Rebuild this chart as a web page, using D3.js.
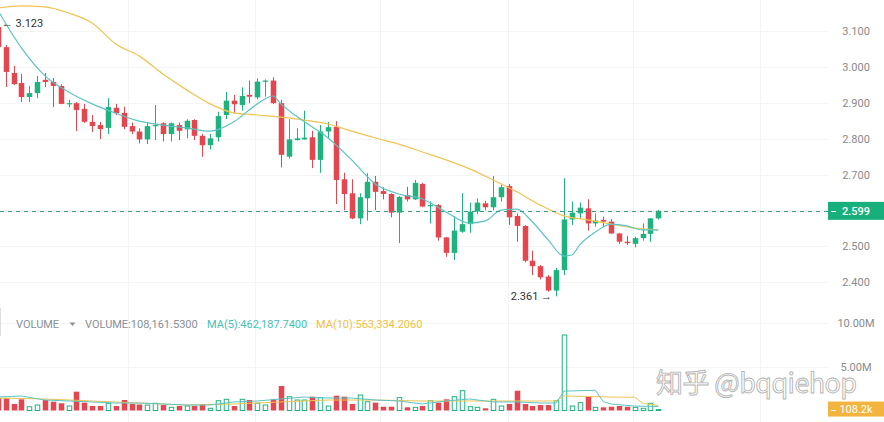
<!DOCTYPE html>
<html><head><meta charset="utf-8">
<script src="https://cdn.jsdelivr.net/npm/d3@7/dist/d3.min.js"></script>
<style>
html,body{margin:0;padding:0;background:#fff;}
svg{display:block;font-family:Roboto,"Noto Sans",sans-serif;}
</style></head>
<body>
<svg id="chart" width="884" height="422"></svg>
<script>
// ---------- DATA ----------
const openP = [3.111,3.055,2.983,2.955,2.916,2.927,2.964,2.958,2.947,2.897,2.899,2.883,2.847,2.838,2.830,
2.886,2.872,2.835,2.820,2.798,2.835,2.843,2.813,2.838,2.826,2.852,2.808,2.782,2.804,2.866,
2.906,2.894,2.922,2.915,2.959,2.962,2.899,2.750,2.796,2.798,2.804,2.741,2.820,2.833,2.687,
2.648,2.578,2.634,2.680,2.654,2.646,2.594,2.643,2.631,2.674,2.613,2.615,2.525,2.482,2.541,
2.562,2.597,2.620,2.609,2.637,2.668,2.585,2.557,2.460,2.445,2.416,2.377,2.434,2.575,2.592,
2.606,2.564,2.574,2.569,2.536,2.513,2.507,2.523,2.535,2.578];
const closeP = [3.055,2.986,2.952,2.916,2.927,2.958,2.958,2.947,2.897,2.899,2.880,2.847,2.835,2.827,2.888,
2.871,2.833,2.820,2.798,2.835,2.838,2.813,2.843,2.822,2.850,2.808,2.782,2.801,2.863,2.906,
2.896,2.919,2.917,2.959,2.962,2.899,2.755,2.798,2.801,2.803,2.741,2.820,2.832,2.685,2.646,
2.578,2.637,2.680,2.652,2.646,2.594,2.638,2.631,2.677,2.611,2.615,2.525,2.482,2.544,2.562,
2.597,2.622,2.609,2.637,2.665,2.581,2.557,2.460,2.445,2.414,2.377,2.434,2.575,2.594,2.608,
2.564,2.572,2.569,2.536,2.513,2.509,2.523,2.535,2.578,2.599];
const highP = [3.123,3.061,3.003,2.980,2.947,2.975,2.983,2.969,2.952,2.908,2.902,2.897,2.866,2.847,2.913,
2.897,2.889,2.845,2.829,2.845,2.894,2.846,2.845,2.845,2.854,2.854,2.813,2.813,2.875,2.930,
2.922,2.943,2.962,2.968,2.965,2.971,2.908,2.854,2.829,2.878,2.822,2.838,2.847,2.849,2.705,
2.687,2.648,2.704,2.696,2.665,2.648,2.640,2.666,2.685,2.677,2.625,2.618,2.526,2.585,2.648,
2.622,2.634,2.627,2.696,2.671,2.674,2.592,2.559,2.488,2.448,2.420,2.440,2.690,2.625,2.622,
2.631,2.592,2.583,2.576,2.537,2.529,2.527,2.564,2.579,2.601];
const lowP = [3.050,2.944,2.950,2.902,2.902,2.913,2.944,2.888,2.896,2.888,2.821,2.844,2.819,2.799,2.813,
2.866,2.826,2.813,2.787,2.785,2.796,2.792,2.792,2.796,2.801,2.796,2.750,2.770,2.792,2.855,
2.871,2.878,2.899,2.910,2.917,2.897,2.720,2.745,2.795,2.797,2.718,2.705,2.801,2.618,2.601,
2.576,2.562,2.572,2.601,2.631,2.581,2.509,2.625,2.629,2.609,2.564,2.516,2.471,2.462,2.538,
2.538,2.590,2.601,2.601,2.625,2.560,2.513,2.456,2.420,2.408,2.374,2.361,2.420,2.560,2.578,
2.544,2.555,2.555,2.535,2.507,2.504,2.497,2.516,2.513,2.575];
// volume in millions
const volume = [1.39,1.39,0.74,1.27,0.43,0.62,1.19,1.00,0.82,0.51,2.14,0.89,0.51,0.51,0.82,
0.51,1.19,0.74,0.68,0.62,0.82,0.62,0.36,0.51,0.51,0.51,0.74,0.25,1.11,1.27,
0.51,1.27,1.19,0.82,0.62,1.27,2.78,1.57,1.19,1.19,1.57,1.46,0.51,1.68,1.57,
0.74,1.76,1.00,0.89,0.43,0.43,1.46,0.36,0.36,0.51,1.11,0.89,1.27,1.57,2.25,
0.43,0.36,0.25,1.27,0.51,0.74,2.25,0.74,0.51,0.62,0.62,1.11,8.58,0.51,0.89,
1.57,0.36,0.36,0.43,0.51,0.43,0.36,0.25,0.82,0.108];

// price moving averages (candle index, value)
const maFastIdx = [0,3,6,9,12,15,18,21,24,27,30,33,35,36,39,42,45,48,51,54,57,60,62,64,66,68,70,72,73,74,76,78,80,82,84];
const maFastVal = [3.158,3.053,2.975,2.930,2.897,2.871,2.849,2.838,2.830,2.821,2.847,2.897,2.919,2.897,2.847,2.802,2.741,2.674,2.646,2.632,2.596,2.565,2.571,2.601,2.604,2.568,2.518,2.473,2.476,2.504,2.540,2.562,2.557,2.546,2.546];
const maSlowIdx = [0,3,6,9,12,15,18,21,24,27,30,33,36,39,42,45,48,51,54,57,60,63,66,69,72,75,78,81,84];
const maSlowVal = [3.164,3.170,3.167,3.150,3.122,3.064,3.030,2.980,2.936,2.897,2.872,2.866,2.860,2.852,2.841,2.821,2.802,2.785,2.763,2.741,2.716,2.685,2.652,2.615,2.585,2.574,2.562,2.551,2.546];

// volume moving averages (millions)
const volMa5Idx = [0,3,6,9,12,15,18,21,24,27,30,33,36,39,42,45,48,51,54,57,60,63,66,69,71,72,76,77,78,81,84];
const volMa5Val = [1.53,1.65,1.19,1.08,0.97,0.85,0.85,0.74,0.62,0.62,0.97,1.08,1.31,1.53,1.42,1.42,1.19,1.08,0.74,1.08,1.31,0.97,0.97,0.85,0.85,2.2,2.3,1.0,0.74,0.5,0.46];
const volMa10Idx = [0,6,12,18,24,30,36,42,48,54,60,66,71,72,78,81,82,84];
const volMa10Val = [1.42,1.31,1.08,0.85,0.62,0.74,0.97,1.19,1.19,1.08,1.08,1.08,1.08,1.65,1.53,1.5,0.85,0.56];

const priceTicks = [2.4,2.5,2.6,2.7,2.8,2.9,3.0,3.1];
const volTicks = [5,10];
const volTickLabels = ["5.00M","10.00M"];
const lastPrice = 2.599;
const lastVolLabel = "108.2k";
const maxLabel = "3.123", minLabel = "2.361";
const legendTexts = ["VOLUME","VOLUME:108,161.5300","MA(5):462,187.7400","MA(10):563,334.2060"];
const watermark = "知乎 @bqqiehop";

// ---------- STYLE ----------
const UP = "#1fb27f", DOWN = "#e4464f";
const TEAL = "#5cc4c4", YEL = "#f0c452";

const svg = d3.select("#chart");
const n = openP.length;
const plotRight = 828;

const x = d3.scaleLinear().domain([0, n-1]).range([-2.16, 658.3]);
const step = x(1)-x(0);
const bw = step*0.7;
const y = d3.scaleLinear().domain([2.4, 3.1]).range([282.3, 31]);
const yv = d3.scaleLinear().domain([0, 10]).range([410.5, 322.5]);

svg.append("defs").append("clipPath").attr("id","clip")
  .append("rect").attr("x",0).attr("y",0).attr("width",plotRight).attr("height",422);

// grid
const grid = svg.append("g");
grid.selectAll("line.h").data(priceTicks).join("line")
  .attr("x1",0).attr("x2",plotRight).attr("y1",d=>Math.round(y(d))+0.5).attr("y2",d=>Math.round(y(d))+0.5)
  .attr("stroke","#f4f4f4");
grid.selectAll("line.hv").data(volTicks).join("line")
  .attr("x1",0).attr("x2",plotRight).attr("y1",d=>Math.round(yv(d))+0.5).attr("y2",d=>Math.round(yv(d))+0.5)
  .attr("stroke","#f4f4f4");
const vGridIdx = [16.5,32.7,48.6,64.9,80.8,96.9];
grid.selectAll("line.v").data(vGridIdx).join("line")
  .attr("x1",d=>Math.round(x(d))+0.5).attr("x2",d=>Math.round(x(d))+0.5)
  .attr("y1",0).attr("y2",422).attr("stroke","#f3f3f3");

const g = svg.append("g").attr("clip-path","url(#clip)");

// candles
const idx = d3.range(n);
const isUp = i => closeP[i] >= openP[i];
g.selectAll("line.wick").data(idx).join("line")
  .attr("x1",i=>Math.round(x(i))+0.5).attr("x2",i=>Math.round(x(i))+0.5)
  .attr("y1",i=>y(highP[i])).attr("y2",i=>y(lowP[i]))
  .attr("stroke",i=>isUp(i)?UP:DOWN).attr("stroke-width",1);
g.selectAll("rect.body").data(idx).join("rect")
  .attr("x",i=>Math.round(x(i))+0.5-bw/2).attr("width",bw)
  .attr("y",i=>y(Math.max(openP[i],closeP[i])))
  .attr("height",i=>Math.max(1.2, Math.abs(y(openP[i])-y(closeP[i]))))
  .attr("fill",i=>isUp(i)?UP:DOWN);

// MAs
const lineP = d3.line().curve(d3.curveMonotoneX).x(d=>x(d[0])).y(d=>y(d[1]));
g.append("path").datum(maSlowIdx.map((d,i)=>[d,maSlowVal[i]])).attr("d",lineP)
  .attr("fill","none").attr("stroke",YEL).attr("stroke-width",1.2);
g.append("path").datum(maFastIdx.map((d,i)=>[d,maFastVal[i]])).attr("d",lineP)
  .attr("fill","none").attr("stroke",TEAL).attr("stroke-width",1.2);

// last price dashed line
svg.append("line").attr("x1",0).attr("x2",plotRight)
  .attr("y1",Math.round(y(lastPrice))+0.5).attr("y2",Math.round(y(lastPrice))+0.5)
  .attr("stroke","#3f9a8a").attr("stroke-width",1).attr("stroke-dasharray","4,4");

// volume bars
g.selectAll("rect.vol").data(idx).join("rect")
  .attr("x",i=>Math.round(x(i))+0.5-bw/2+(isUp(i)?0.5:0))
  .attr("width",i=>isUp(i)?bw-1:bw)
  .attr("y",i=>yv(volume[i]))
  .attr("height",i=>Math.max(0.8, yv(0)-yv(volume[i])))
  .attr("fill",i=>isUp(i)?"#fff":DOWN)
  .attr("stroke",i=>isUp(i)?UP:"none").attr("stroke-width",1);

const lineV = d3.line().x(d=>x(d[0])).y(d=>yv(d[1]));
g.append("path").datum(volMa10Idx.map((d,i)=>[d,volMa10Val[i]])).attr("d",lineV)
  .attr("fill","none").attr("stroke",YEL).attr("stroke-width",1);
g.append("path").datum(volMa5Idx.map((d,i)=>[d,volMa5Val[i]])).attr("d",lineV)
  .attr("fill","none").attr("stroke",TEAL).attr("stroke-width",1);

// right axes
const axP = svg.append("g").attr("transform","translate(856,0)")
  .call(d3.axisRight(y).tickValues(priceTicks.filter(d=>d!==2.6)).tickFormat(d3.format(".3f")).tickSize(0).tickPadding(0));
axP.select(".domain").remove();
axP.selectAll("text").attr("text-anchor","middle").attr("x",0).attr("fill","#8a8a8a").style("font-size","11px").style("font-family","Roboto");
const axV = svg.append("g").attr("transform","translate(856,0)")
  .call(d3.axisRight(yv).tickValues(volTicks).tickFormat((d,i)=>volTickLabels[i]).tickSize(0).tickPadding(0));
axV.select(".domain").remove();
axV.selectAll("text").attr("text-anchor","middle").attr("x",0).attr("fill","#8a8a8a").style("font-size","11px").style("font-family","Roboto");

// watermark
svg.append("text").attr("x",656).attr("y",393).text(watermark)
  .attr("font-family","'Noto Sans CJK SC','Noto Sans',sans-serif").attr("font-size",27)
  .attr("letter-spacing",-0.6)
  .attr("fill","rgba(255,255,255,0.55)").attr("stroke","#b4b4b4").attr("stroke-width",0.9);

// last price label
const ly = y(lastPrice);
svg.append("rect").attr("x",plotRight).attr("y",ly-9).attr("width",884-plotRight).attr("height",18).attr("fill","#17b07c");
svg.append("line").attr("x1",plotRight+3).attr("x2",plotRight+8).attr("y1",Math.round(ly)+0.5).attr("y2",Math.round(ly)+0.5).attr("stroke","#fff");
svg.append("text").attr("x",856).attr("y",ly+4).attr("text-anchor","middle").text(lastPrice.toFixed(3))
  .attr("fill","#fff").attr("font-size",11).attr("font-weight",500);

// last volume label
const lvy = yv(0.108);
svg.append("rect").attr("x",plotRight).attr("y",lvy-8).attr("width",884-plotRight).attr("height",15).attr("fill","#f3b43f");
svg.append("line").attr("x1",plotRight+3).attr("x2",plotRight+8).attr("y1",Math.round(lvy)+0.5).attr("y2",Math.round(lvy)+0.5).attr("stroke","#fff");
svg.append("text").attr("x",856).attr("y",lvy+3.5).attr("text-anchor","middle").text(lastVolLabel)
  .attr("fill","#fff").attr("font-size",11);

// max / min labels
const hiIdx = d3.maxIndex(highP), loIdx = d3.minIndex(lowP);
svg.append("text").attr("x",x(hiIdx)+4).attr("y",y(highP[hiIdx])+4).text("← " + maxLabel)
  .attr("fill","#333").attr("font-size",11);
svg.append("text").attr("x",x(loIdx)-4).attr("y",y(lowP[loIdx])+4).attr("text-anchor","end").text(minLabel + " →")
  .attr("fill","#333").attr("font-size",11);

// volume legend
const leg = svg.append("g").attr("font-size",11);
leg.append("line").attr("x1",0.5).attr("x2",0.5).attr("y1",308).attr("y2",336).attr("stroke","#ddd");
leg.append("text").attr("x",16).attr("y",328).text(legendTexts[0]).attr("fill","#8a8f99");
leg.append("path").attr("d","M69.5,322.5 L75.5,322.5 L72.5,326 Z").attr("fill","#8a8f99");
leg.append("text").attr("x",85).attr("y",328).text(legendTexts[1]).attr("fill","#8a8f99");
leg.append("text").attr("x",207).attr("y",328).text(legendTexts[2]).attr("fill","#44c2b8");
leg.append("text").attr("x",316).attr("y",328).text(legendTexts[3]).attr("fill","#f0c040");
</script>
</body></html>
